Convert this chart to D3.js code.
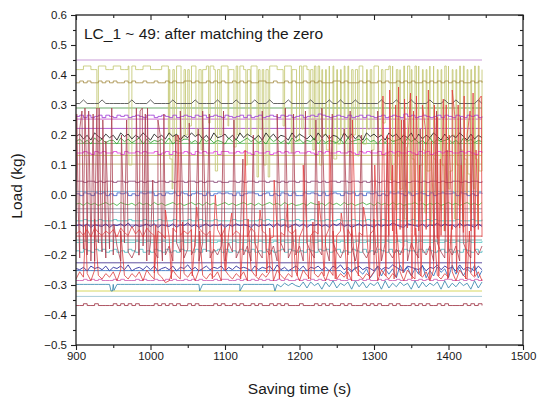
<!DOCTYPE html>
<html><head><meta charset="utf-8">
<script src="https://cdn.jsdelivr.net/npm/d3@7"></script>
<style>body{margin:0;background:#fff}svg{display:block}text{font-family:Arial,"Liberation Sans",sans-serif;fill:#1a1a1a}</style>
</head><body><svg id="c" width="549" height="404"></svg>
<script>
// ---------- data ----------
const timeStart = 900, timeStep = 5, timeEnd = 1445;
const xTicks = [900, 1000, 1100, 1200, 1300, 1400, 1500];
const xMinor = [950, 1050, 1150, 1250, 1350, 1450];
const yTicks = [-0.5, -0.4, -0.3, -0.2, -0.1, 0.0, 0.1, 0.2, 0.3, 0.4, 0.5, 0.6];
const yMinor = [-0.45, -0.35, -0.25, -0.15, -0.05, 0.05, 0.15, 0.25, 0.35, 0.45, 0.55];

// constant load cells (kg)
const flatLevels = [0.45, 0.29, 0.253, 0.222, 0.172, 0.132, 0.103, 0.012, -0.046, -0.058, -0.1, -0.137, -0.15, -0.226, -0.32, -0.338];

// fluctuating load cells: base level, digit unit, one digit per 5 s sample (900..1445 s)
const wiggleBase = [0.424, 0.377, 0.305, 0.262, 0.195, 0.182, 0.14, 0.046, 0.001, -0.03, -0.086, -0.102, -0.158, -0.186, -0.245, -0.285, -0.298, -0.252, -0.366, -0.268, -0.19, -0.125];
const wiggleUnit = [0.0015, 0.0015, 0.003, 0.002, 0.004, 0.004, 0.0025, 0.002, 0.003, 0.0025, 0.002, 0.003, 0.002, 0.0025, 0.004, 0.002, 0.004, 0.006, 0.0012, 0.006, 0.01, 0.005];
const wiggleCodes = [
  "1199119911 9911991199 1119911991 1991199119 9119911991 1199119911 9911991199 1199119911 9911991199 1991199119 9119911991",
  "3737337373 7337373373 3733737337 7373373737 3373737337 7337337373 3737373337 7373337373 3737337373 7337373737 3737337373",
  "5595555955 5555595555 9555559555 5595555595 5559555595 5595555955 5559555595 5955595555 5595559555 9555595559 5595555595",
  "5737357375 3757357537 7357537357 5375735753 7535737357 3575375735 7357597535 7537357375 3573575395 7357535737 5375375735",
  "5736285374 6285736485 2746385726 4857362845 7362847536 2847365284 7536284736 5284736285 7462857364 8273648527 3648527364",
  "4635274635 5274635726 3546372546 6352746354 2746357463 5274635274 6354726354 3627456374 5263745627 4635273645 6352746354",
  "5575375755 7537557575 5735737557 5375755737 7557575375 5735757557 5575375755 7557537575 5735757557 5375735757 7557575375",
  "5535535355 3553553535 5355353553 5535355353 3553535535 5355353553 5535535355 3553553535 5355353553 5535355353 3553535535",
  "6476476746 4767464767 7464767476 4676474676 7647467764 6746476474 4767647467 6476746476 7464767647 4676474676 6747646476",
  "5637463574 6375463746 3746357463 5746374635 7463574636 3574637463 4637546374 6374635746 3746374635 5746364735 7463574637",
  "5575557555 7555755575 5575557555 7557555755 5575575557 5755575557 5557555755 7555755575 5575557555 7555757555 5575557557",
  "5647365473 6574836457 4736547365 8463574657 3647565374 6573846357 4736574637 5846357465 3746586437 6547365847 5638465374",
  "5575575557 5575557557 5557557575 5755575575 5575557557 5557575575 5575575557 5755575575 5557557575 5575557557 5575575557",
  "5375375735 7353753735 3753735375 5373753573 7353753735 3753573753 5375375735 7353753735 3753735375 5373753573 7353753735",
  "5463756473 6574835647 4735647365 8463574657 3647565374 6573846357 4736574637 5846357465 3746586437 6547365847 5638465374",
  "5575757555 7575557575 5755757557 5757555757 7557575757 5755757557 5757575755 7557557575 5757557557 5575757557 7557575757",
  "5555555555 5555555555 5555555555 5555555555 5555555555 5555536464 3727461738 2647183726 4718263746 1827364718 2637461827",
  "5555555555 5555555555 5555555555 5555555555 5555555555 5555555555 5555555555 5536475361 4726361847 2638152746 1837264815",
  "3383383333 8383838333 3838383833 8383333838 3383833838 3383838333 8333838383 3838333838 3833838333 8383833838 3333838383",
  "3746285364 7285364728 5364128536 4728536472 8536472853 6472853647 2853647285 3647285364 7285364728 5364728536 4728536472",
  "5364728536 4728536472 8536472853 6472853647 2853647285 3647285364 7285364728 5364728536 4728536472 8536472853 6472853647",
  "4637285364 7285394728 5364128536 4728536472 8536472853 6412853647 2853647285 3647285394 7285364728 5364728136 4728536472"
];

// excursions: [time (s), load (kg)]
const oliveDrops = [[928,0.29],[971,0.1],[1024,0.2],[1026,0.12],[1029,0.02],[1032,0.18],[1041,0.19],[1047,0.2],[1052,0.23],[1061,0.2],[1068,0.15],[1078,0.24],[1087,0.08],[1093,0.2],[1104,0.23],[1112,0.16],[1117,0.2],[1128,0.1],[1134,0.2],[1143,0.06],[1147,0.22],[1152,0.1],[1158,0.06],[1178,0.23],[1189,0.14],[1196,0.18],[1203,0.22],[1213,0.2],[1218,0.15],[1222,0.18],[1227,0.1],[1231,0.2],[1236,0.15],[1240,0.18],[1246,0.12],[1251,0.17],[1256,0.2],[1261,0.14],[1266,0.19],[1272,0.2],[1278,0.13],[1285,0.17],[1291,0.22],[1297,0.15],[1306,0.2],[1312,0.24],[1322,0.05],[1325,0.18],[1329,-0.05],[1332,0.13],[1335,0.02],[1338,0.2],[1341,-0.08],[1344,0.16],[1348,0.0],[1351,0.12],[1354,-0.1],[1357,0.2],[1360,-0.02],[1362,0.1],[1366,0.15],[1368,-0.06],[1371,0.08],[1375,0.2],[1377,-0.1],[1380,0.12],[1383,0.0],[1386,0.18],[1389,-0.05],[1391,0.1],[1394,-0.12],[1397,0.14],[1400,0.02],[1402,0.08],[1406,0.2],[1408,-0.08],[1411,0.1],[1414,-0.03],[1416,0.15],[1419,-0.1],[1421,0.12],[1424,0.0],[1426,0.07],[1429,-0.06],[1431,0.18],[1434,0.02],[1436,0.12],[1439,-0.1],[1441,0.08]];
const maroonSpikes = [[901,0.27],[903,-0.05],[905,0.22],[908,0.28],[910,-0.12],[912,0.29],[914,0.1],[917,0.28],[920,-0.22],[923,0.27],[926,0.0],[928,0.29],[931,0.29],[934,-0.15],[936,0.25],[940,0.18],[948,0.29],[951,-0.1],[961,0.2],[968,0.25],[981,0.29],[984,-0.2],[986,0.28],[989,0.29],[991,-0.1],[993,0.27],[996,0.29],[998,-0.2],[1003,0.05],[1010,0.25],[1013,0.2],[1016,-0.22],[1018,0.27],[1034,0.2],[1040,0.28],[1052,0.24],[1064,0.22],[1070,0.28],[1079,0.27],[1098,0.28],[1112,0.25],[1124,0.12],[1138,0.2],[1150,0.28],[1170,0.27],[1181,0.29],[1192,0.27],[1208,0.28],[1222,0.25],[1230,0.29],[1244,0.27],[1260,0.22],[1268,0.28],[1283,0.2],[1297,0.15],[1305,0.28],[1318,0.2],[1340,0.25],[1362,0.22],[1384,0.28],[1398,0.15],[1416,0.26],[1432,0.2]];
const redSpikes = [[1005,-0.26],[1020,-0.05],[1028,-0.28],[1037,0.2],[1056,-0.27],[1062,-0.04],[1083,-0.28],[1087,0.0],[1101,-0.25],[1109,-0.06],[1121,-0.28],[1127,0.15],[1142,-0.27],[1147,-0.05],[1156,-0.26],[1166,0.05],[1173,-0.28],[1184,-0.03],[1197,-0.27],[1205,0.1],[1212,-0.28],[1226,-0.02],[1233,-0.27],[1240,0.2],[1248,-0.28],[1256,-0.06],[1264,-0.28],[1271,0.25],[1279,-0.27],[1286,-0.04],[1294,-0.28],[1301,0.1],[1307,-0.27],[1312,0.33],[1316,-0.27],[1318,0.2],[1321,0.35],[1325,0.1],[1327,-0.28],[1329,0.3],[1333,0.36],[1337,0.25],[1339,-0.26],[1341,0.32],[1345,0.15],[1349,0.34],[1351,-0.28],[1353,0.28],[1357,0.33],[1361,0.1],[1363,-0.27],[1365,0.3],[1369,0.22],[1373,0.35],[1375,-0.28],[1377,0.18],[1381,0.3],[1385,0.26],[1387,-0.27],[1389,0.12],[1393,0.32],[1397,0.3],[1399,-0.28],[1401,0.2],[1405,0.35],[1409,0.25],[1411,-0.26],[1413,0.3],[1417,0.1],[1421,0.33],[1423,-0.28],[1425,0.2],[1429,0.28],[1433,0.34],[1435,-0.27],[1437,0.15],[1441,0.32],[1444,0.33]];
const red2Spikes = [[913,-0.1],[925,-0.08],[960,-0.12],[1007,-0.1],[1043,-0.09],[1066,-0.12],[1095,-0.1],[1131,-0.08],[1160,-0.11],[1190,-0.1],[1218,-0.09],[1245,-0.12],[1270,-0.1],[1300,-0.08],[1330,-0.1],[1356,-0.11],[1380,-0.09],[1404,-0.1],[1428,-0.12]];
const tealDips = [[947,-0.32],[949,-0.32],[951,-0.318],[1066,-0.32],[1120,-0.32],[1167,-0.32]];

// which fluctuating series each excursion list belongs to
const excursionSeries = [0, 20, 21, 19, 16];
const excursionLists = [oliveDrops, maroonSpikes, redSpikes, red2Spikes, tealDips];

// ---------- styles ----------
const flatColors = ["#c99ad6","#6aaa6a","#d070d0","#b060d0","#70c070","#c8c878","#c0b880","#88c0e0","#9aa0b0","#a0b0c0","#8060b0","#d06060","#70b8b8","#6050a0","#d8d860","#a8ccd8"];
const wiggleColors = ["#c4c874","#a8904a","#4a4a4a","#a040d8","#1a1a1a","#30a030","#e048e0","#8a4a78","#4466cc","#44b844","#44c0c0","#2a2a90","#55c4c4","#50b8c0","#22229a","#d060b0","#3a88b0","#3070c0","#a03848","#d83030","#a8384a","#e23a3a"];
const wiggleStep = [1,1,0,1,0,0,1,1,1,0,1,0,1,1,0,1,0,0,1,0,0,0];

// ---------- layout ----------
const L = 76, R = 523, T = 15, B = 345;
const svg = d3.select("#c");
const x = d3.scaleLinear().domain([900, 1500]).range([L, R]);
const y = d3.scaleLinear().domain([-0.5, 0.6]).range([B, T]);

svg.append("defs").append("clipPath").attr("id", "clip")
  .append("rect").attr("x", L).attr("y", T).attr("width", R - L).attr("height", B - T);
const plot = svg.append("g").attr("clip-path", "url(#clip)");

// flats
plot.selectAll("line.flat").data(flatLevels).join("line").attr("class", "flat")
  .attr("x1", x(timeStart)).attr("x2", x(timeEnd))
  .attr("y1", d => y(d)).attr("y2", d => y(d))
  .attr("stroke", (d, i) => flatColors[i]).attr("stroke-width", 1);

function buildSeries(i) {
  const code = wiggleCodes[i].replace(/\s/g, "");
  const pts = Array.from(code, (c, k) => [timeStart + k * timeStep, wiggleBase[i] + (+c - 5) * wiggleUnit[i]]);
  excursionSeries.forEach((s, j) => { if (s === i) excursionLists[j].forEach(p => pts.push(p)); });
  pts.sort((a, b) => a[0] - b[0]);
  return pts;
}
const series = wiggleBase.map((b, i) => buildSeries(i));
series.forEach((pts, i) => {
  const gen = d3.line().x(d => x(d[0])).y(d => y(d[1]))
    .curve(wiggleStep[i] ? d3.curveStepAfter : d3.curveLinear);
  plot.append("path").datum(pts).attr("d", gen)
    .attr("fill", "none").attr("stroke", wiggleColors[i]).attr("stroke-width", i >= 19 ? 0.75 : 0.85)
    .attr("stroke-linejoin", "round");
});

// ---------- axes ----------
const ax = svg.append("g").attr("class", "axes");
const stroke = "#222";
function styleAxis(g) { g.select(".domain").remove(); g.selectAll("line").attr("stroke", stroke).attr("stroke-width", 1.1); g.selectAll("text").style("font-size", "11.5px").attr("fill", "#1a1a1a").style("font-family", "Arial, 'Liberation Sans', sans-serif"); }

ax.append("g").attr("transform", `translate(0,${B})`)
  .call(d3.axisBottom(x).tickValues(xTicks).tickSize(5).tickPadding(2).tickFormat(d3.format("d"))).call(styleAxis);
ax.append("g").attr("transform", `translate(0,${B})`)
  .call(d3.axisBottom(x).tickValues(xMinor).tickSize(3).tickFormat("")).call(styleAxis);
ax.append("g").attr("transform", `translate(${L},0)`)
  .call(d3.axisLeft(y).tickValues(yTicks).tickSize(5).tickPadding(4).tickFormat(d3.format(".1f"))).call(styleAxis);
ax.append("g").attr("transform", `translate(${L},0)`)
  .call(d3.axisLeft(y).tickValues(yMinor).tickSize(3).tickFormat("")).call(styleAxis);
ax.append("g").attr("transform", `translate(0,${T})`)
  .call(d3.axisBottom(x).tickValues(xTicks).tickSize(5).tickFormat("")).call(styleAxis);
ax.append("g").attr("transform", `translate(0,${T})`)
  .call(d3.axisBottom(x).tickValues(xMinor).tickSize(3).tickFormat("")).call(styleAxis);
ax.append("g").attr("transform", `translate(${R},0)`)
  .call(d3.axisLeft(y).tickValues(yTicks).tickSize(5).tickFormat("")).call(styleAxis);
ax.append("g").attr("transform", `translate(${R},0)`)
  .call(d3.axisLeft(y).tickValues(yMinor).tickSize(3).tickFormat("")).call(styleAxis);

svg.append("rect").attr("x", L).attr("y", T).attr("width", R - L).attr("height", B - T)
  .attr("fill", "none").attr("stroke", stroke).attr("stroke-width", 1.3);

// labels
svg.append("text").attr("x", 84).attr("y", 39).style("font-size", "15.5px")
  .text("LC_1 ~ 49: after matching the zero");
svg.append("text").attr("x", (L + R) / 2).attr("y", 394).attr("text-anchor", "middle")
  .style("font-size", "15.5px").text("Saving time (s)");
svg.append("text").attr("transform", "translate(22,186) rotate(-90)").attr("text-anchor", "middle")
  .style("font-size", "15.5px").text("Load (kg)");
</script></body></html>
